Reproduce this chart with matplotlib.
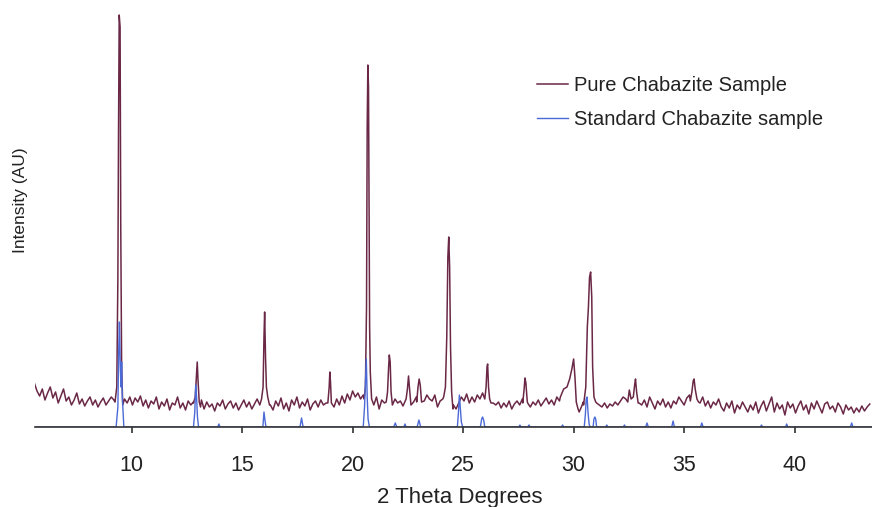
import numpy as np
import matplotlib
matplotlib.use("Agg")
import matplotlib.pyplot as plt

plt.rcParams['font.family'] = ['Liberation Sans', 'DejaVu Sans']

# ---------------- data (intensity in arbitrary units) ----------------
# Baseline (noise) of the pure sample, sampled every 0.12 deg starting at 5.60
noise_start = 5.60
noise_step = 0.12
pure_noise = [
    44, 36, 31, 38, 27, 34, 40, 29, 35, 24,
    31, 38, 26, 30, 22, 27, 34, 23, 28, 21,
    26, 30, 22, 27, 20, 25, 29, 22, 26, 30,
    27, 30, 28, 30, 33, 24, 30, 22, 29, 25,
    31, 21, 27, 19, 26, 23, 30, 18, 25, 21,
    28, 17, 24, 22, 30, 19, 24, 17, 26, 22,
    25, 24, 26, 27, 18, 25, 20, 23, 16, 24,
    21, 27, 18, 23, 26, 19, 24, 17, 22, 27,
    20, 25, 18, 23, 28, 22, 27, 30, 28, 22,
    17, 26, 21, 29, 18, 24, 16, 27, 22, 30,
    19, 25, 21, 28, 17, 23, 26, 20, 27, 22,
    24, 26, 25, 20, 28, 22, 31, 24, 33, 27,
    36, 30, 34, 28, 32, 35, 30, 28, 22, 30,
    18, 27, 24, 30, 22, 20, 28, 24, 26, 21,
    27, 30, 22, 25, 30, 24, 22, 26, 32, 28,
    26, 32, 20, 26, 28, 30, 30, 30, 22, 18,
    24, 30, 26, 33, 24, 30, 25, 32, 28, 34,
    30, 30, 28, 24, 22, 25, 19, 24, 20, 26,
    18, 23, 26, 22, 28, 28, 24, 20, 25, 22,
    27, 21, 25, 29, 23, 27, 22, 30, 26, 32,
    36, 30, 40, 40, 33, 28, 20, 25, 30, 30,
    30, 30, 24, 22, 20, 24, 19, 23, 21, 25,
    22, 26, 30, 28, 33, 30, 27, 30, 24, 22,
    27, 20, 30, 24, 18, 26, 22, 28, 20, 25,
    19, 26, 23, 30, 26, 22, 29, 32, 35, 30,
    28, 24, 30, 21, 26, 19, 25, 22, 28, 20,
    16, 24, 19, 26, 14, 22, 18, 25, 20, 15,
    22, 17, 25, 14, 21, 26, 16, 23, 30, 15,
    24, 18, 22, 12, 25, 19, 23, 14, 21, 26,
    17, 22, 13, 24, 18, 26, 20, 14, 23, 25,
    18, 21, 15, 24, 20, 13, 22, 17, 20, 14,
    19, 15, 21, 16, 20, 23,
]

# Pure sample peaks: (2theta, intensity) profiles
pure_peaks = [
    [(9.25, 25), (9.33, 40), (9.38, 150), (9.41, 300), (9.44, 412), (9.48, 400),
     (9.51, 200), (9.55, 60), (9.60, 22), (9.68, 28)],
    [(12.80, 24), (12.88, 30), (12.93, 50), (12.97, 65), (13.01, 45), (13.06, 25), (13.12, 20)],
    [(15.88, 28), (15.95, 40), (15.99, 90), (16.02, 115), (16.06, 70), (16.10, 40),
     (16.16, 30), (16.24, 22)],
    [(18.88, 24), (18.94, 40), (18.97, 55), (19.00, 45), (19.04, 24)],
    [(20.52, 28), (20.58, 40), (20.63, 120), (20.66, 300), (20.69, 362), (20.72, 340),
     (20.75, 200), (20.77, 100), (20.80, 55), (20.86, 28)],
    [(21.52, 25), (21.58, 35), (21.63, 60), (21.66, 72), (21.70, 65), (21.74, 35), (21.80, 22)],
    [(22.42, 28), (22.48, 38), (22.53, 51), (22.57, 40), (22.62, 28)],
    [(22.90, 25), (22.96, 40), (23.01, 48), (23.06, 42), (23.12, 25)],
    [(24.12, 30), (24.20, 40), (24.26, 90), (24.31, 170), (24.35, 190), (24.39, 160),
     (24.43, 80), (24.48, 35), (24.54, 18)],
    [(25.98, 28), (26.04, 40), (26.08, 60), (26.11, 63), (26.15, 40), (26.20, 28), (26.26, 24)],
    [(27.70, 24), (27.76, 38), (27.80, 49), (27.84, 44), (27.90, 26)],
    [(29.40, 30), (29.55, 38), (29.70, 40), (29.82, 48), (29.92, 58), (30.00, 68),
     (30.06, 50), (30.12, 25), (30.20, 18), (30.25, 15), (30.35, 20)],
    [(30.45, 22), (30.55, 40), (30.62, 100), (30.67, 120), (30.72, 150), (30.77, 155),
     (30.82, 130), (30.86, 60), (30.92, 30), (31.00, 25)],
    [(32.45, 25), (32.52, 37), (32.60, 28), (32.70, 30), (32.76, 42), (32.80, 48),
     (32.85, 35), (32.92, 24)],
    [(35.28, 26), (35.35, 35), (35.41, 46), (35.45, 48), (35.50, 38), (35.58, 28), (35.65, 25)],
]

# Standard chabazite pattern: (2theta, intensity) profiles, zero between peaks
std_peaks = [
    [(9.30, 0), (9.38, 20), (9.42, 80), (9.45, 105), (9.49, 60), (9.52, 40),
     (9.55, 65), (9.58, 30), (9.65, 0)],
    [(12.80, 0), (12.86, 15), (12.90, 42), (12.94, 30), (12.98, 10), (13.03, 0)],
    [(13.90, 0), (13.95, 3), (14.00, 0)],
    [(15.94, 0), (15.99, 15), (16.04, 6), (16.08, 0)],
    [(17.62, 0), (17.69, 9), (17.76, 0)],
    [(20.48, 0), (20.54, 20), (20.58, 45), (20.62, 68), (20.66, 30), (20.70, 8), (20.76, 0)],
    [(21.86, 0), (21.93, 4), (22.00, 0)],
    [(22.32, 0), (22.37, 3), (22.42, 0)],
    [(22.92, 0), (23.00, 7), (23.08, 0)],
    [(24.74, 0), (24.79, 15), (24.83, 32), (24.87, 20), (24.92, 5), (24.98, 0)],
    [(25.78, 0), (25.84, 8), (25.88, 10), (25.93, 7), (25.98, 0)],
    [(27.52, 0), (27.57, 2), (27.62, 0)],
    [(27.93, 0), (27.98, 2), (28.03, 0)],
    [(29.45, 0), (29.50, 2), (29.55, 0)],
    [(30.48, 0), (30.53, 12), (30.57, 28), (30.61, 30), (30.65, 15), (30.70, 3), (30.74, 0)],
    [(30.88, 0), (30.92, 8), (30.96, 10), (31.00, 8), (31.04, 0)],
    [(31.45, 0), (31.50, 2), (31.55, 0)],
    [(32.25, 0), (32.30, 2), (32.35, 0)],
    [(33.26, 0), (33.32, 4), (33.38, 0)],
    [(34.44, 0), (34.50, 6), (34.56, 0)],
    [(35.74, 0), (35.80, 4), (35.86, 0)],
    [(38.45, 0), (38.50, 2), (38.55, 0)],
    [(39.59, 0), (39.64, 3), (39.69, 0)],
    [(42.52, 0), (42.58, 4), (42.64, 0)],
]

x_min, x_max = 5.63, 43.5
x_ticks = [10, 15, 20, 25, 30, 35, 40]
label_pure = "Pure Chabazite Sample"
label_std = "Standard Chabazite sample"
x_label = "2 Theta Degrees"
y_label = "Intensity (AU)"

# ---------------- build traces ----------------
nx = noise_start + noise_step * np.arange(len(pure_noise))
ny = np.array(pure_noise, dtype=float)
keep = np.ones(len(nx), dtype=bool)
px_list, py_list = [], []
for pk in pure_peaks:
    xs = [p[0] for p in pk]
    keep &= ~((nx >= min(xs)) & (nx <= max(xs)))
    px_list += xs
    py_list += [p[1] for p in pk]
pure_x = np.concatenate([nx[keep], px_list])
pure_y = np.concatenate([ny[keep], py_list])
order = np.argsort(pure_x)
pure_x, pure_y = pure_x[order], pure_y[order]

sx = [x_min - 1]
sy = [0]
for pk in std_peaks:
    sx += [p[0] for p in pk]
    sy += [p[1] for p in pk]
sx.append(x_max + 1)
sy.append(0)

# ---------------- plot ----------------
W, H = 872, 507
fig = plt.figure(figsize=(W / 100, H / 100), dpi=100)
ax = fig.add_axes([35 / W, 80 / H, (W - 35) / W, 427 / H])

maroon = '#6a2846'
blue = '#4c6ad6'
ax.plot(pure_x, pure_y, color=maroon, lw=1.1, label=label_pure, zorder=2)
ax.plot(sx, sy, color=blue, lw=1.0, label=label_std, zorder=2.1)

ax.set_xlim(x_min, x_max)
ax.set_ylim(0, 427)
for s in ['top', 'right', 'left']:
    ax.spines[s].set_visible(False)
ax.spines['bottom'].set_color('#333333')
ax.spines['bottom'].set_linewidth(1.2)
ax.spines['bottom'].set_zorder(3)
ax.set_yticks([])
ax.set_xticks(x_ticks)
ax.tick_params(axis='x', direction='out', length=4.5, width=1.2, color='#333333',
               pad=15.5, labelsize=15.5, labelcolor='#222222')

fig.text(460 / W, 4 / H, x_label, ha='center', va='baseline', fontsize=16, color='#222222')
fig.text(20 / W, 1 - 200 / H, y_label, ha='center', va='center', rotation=90,
         fontsize=12.5, color='#222222')

leg = ax.legend(loc='upper left', bbox_to_anchor=(537 / W, 1 - 76 / H),
                bbox_transform=fig.transFigure, frameon=False, fontsize=14.5,
                handlelength=1.55, handletextpad=0.3, labelspacing=0.75,
                borderaxespad=0, borderpad=0)
for t in leg.get_texts():
    t.set_color('#222222')

fig.savefig('out.png', dpi=100)
